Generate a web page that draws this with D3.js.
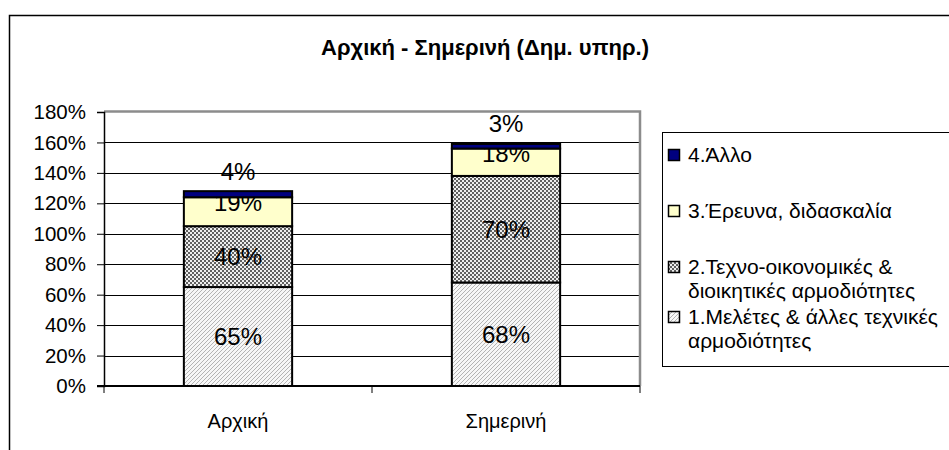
<!DOCTYPE html>
<html>
<head>
<meta charset="utf-8">
<script src="https://cdn.jsdelivr.net/npm/d3@7"></script>
<style>
  body { margin: 0; background: #fff; }
  svg { display: block; font-family: "Liberation Sans", Arial, sans-serif; }
</style>
</head>
<body>
<svg id="chart" width="949" height="450"></svg>
<script>
// data
const categories = ['Αρχική', 'Σημερινή'];
const seriesNames = [
  '1.Μελέτες & άλλες τεχνικές αρμοδιότητες',
  '2.Τεχνο-οικονομικές & διοικητικές αρμοδιότητες',
  '3.Έρευνα, διδασκαλία',
  '4.Άλλο'
];
const series1 = [65, 68];
const series2 = [40, 70];
const series3 = [19, 18];
const series4 = [4, 3];
const yTicks = [0, 20, 40, 60, 80, 100, 120, 140, 160, 180];
const title = 'Αρχική - Σημερινή (Δημ. υπηρ.)';

const svg = d3.select('#chart');
const defs = svg.append('defs');

// fill patterns
const hatch = defs.append('pattern')
  .attr('id', 'hatch')
  .attr('patternUnits', 'userSpaceOnUse')
  .attr('width', 4).attr('height', 4);
hatch.append('rect').attr('width', 4).attr('height', 4).attr('fill', '#f7f7f7');
hatch.append('path')
  .attr('d', 'M-1,1 l2,-2 M0,4 l4,-4 M3,5 l2,-2')
  .attr('stroke', '#b4b4b4').attr('stroke-width', 1);

const checker = defs.append('pattern')
  .attr('id', 'checker')
  .attr('patternUnits', 'userSpaceOnUse')
  .attr('width', 4).attr('height', 4);
checker.append('rect').attr('width', 4).attr('height', 4).attr('fill', '#eeeeee');
checker.append('rect').attr('width', 2).attr('height', 2).attr('fill', '#606060');
checker.append('rect').attr('x', 2).attr('y', 2).attr('width', 2).attr('height', 2).attr('fill', '#606060');

const fills = ['url(#hatch)', 'url(#checker)', '#ffffcc', '#000080'];
const labelShift = [0, 0, -9, -23];

// outer chart frame (runs past the window)
svg.append('rect')
  .attr('x', 9.5).attr('y', 15.5)
  .attr('width', 960).attr('height', 460)
  .attr('fill', 'none').attr('stroke', '#000').attr('stroke-width', 1.5);

// title
svg.append('text')
  .attr('x', 485).attr('y', 55)
  .attr('text-anchor', 'middle')
  .attr('font-size', 22).attr('font-weight', 'bold')
  .text(title);

const margin = { left: 104, right: 640, top: 112, bottom: 386 };

const x = d3.scaleBand()
  .domain(categories)
  .range([margin.left, margin.right])
  .padding(0);

const y = d3.scaleLinear()
  .domain([0, 180])
  .range([margin.bottom, margin.top]);

const barW = x.bandwidth() * 0.404;

// gridlines
svg.append('g')
  .selectAll('line')
  .data(yTicks.slice(1, -1))
  .join('line')
  .attr('x1', margin.left).attr('x2', margin.right)
  .attr('y1', d => Math.round(y(d)) + 0.5).attr('y2', d => Math.round(y(d)) + 0.5)
  .attr('stroke', '#000').attr('stroke-width', 1);

// plot area border (grey)
svg.append('path')
  .attr('d', `M${margin.left},${Math.round(y(180)) - 0.5}H${margin.right}V${margin.bottom}`)
  .attr('fill', 'none').attr('stroke', '#8c8c8c').attr('stroke-width', 2.5);

// stacked bars
const rows = categories.map((c, i) => ({
  cat: c, s0: series1[i], s1: series2[i], s2: series3[i], s3: series4[i]
}));
const keys = ['s0', 's1', 's2', 's3'];
const stacked = d3.stack().keys(keys)(rows);

const layers = svg.append('g')
  .selectAll('g')
  .data(stacked)
  .join('g')
  .attr('fill', (d, i) => fills[i]);

layers.selectAll('rect')
  .data(d => d)
  .join('rect')
  .attr('x', d => x(d.data.cat) + (x.bandwidth() - barW) / 2)
  .attr('y', d => y(d[1]))
  .attr('width', barW)
  .attr('height', d => y(d[0]) - y(d[1]))
  .attr('stroke', '#000')
  .attr('stroke-width', 2);

// y axis
const yAxis = svg.append('g')
  .attr('transform', `translate(${margin.left},0)`)
  .call(d3.axisLeft(y).tickValues(yTicks).tickFormat(d => d + '%').tickSize(7).tickPadding(11));
yAxis.select('.domain').attr('stroke', '#000').attr('stroke-width', 1.5);
yAxis.selectAll('.tick line').attr('stroke', '#000');
yAxis.selectAll('text').attr('font-size', 20.5).attr('fill', '#000')
  .attr('font-family', '"Liberation Sans", Arial, sans-serif');

// x axis
const xAxisG = svg.append('g')
  .attr('transform', `translate(0,${margin.bottom})`);
xAxisG.append('line')
  .attr('x1', margin.left - 7).attr('x2', margin.right)
  .attr('stroke', '#000').attr('stroke-width', 2);
xAxisG.selectAll('.cattick')
  .data([margin.left, margin.left + x.bandwidth(), margin.right])
  .join('line')
  .attr('x1', d => d).attr('x2', d => d)
  .attr('y1', 0).attr('y2', 7)
  .attr('stroke', '#000');
xAxisG.selectAll('text')
  .data(categories)
  .join('text')
  .attr('x', d => x(d) + x.bandwidth() / 2)
  .attr('y', 42)
  .attr('text-anchor', 'middle')
  .attr('font-size', 20)
  .text(d => d);

// data labels
layers.each(function (layer, li) {
  d3.select(this).selectAll('text')
    .data(layer)
    .join('text')
    .attr('x', d => x(d.data.cat) + x.bandwidth() / 2)
    .attr('y', d => (y(d[0]) + y(d[1])) / 2 + labelShift[li])
    .attr('dy', '0.35em')
    .attr('text-anchor', 'middle')
    .attr('font-size', 24)
    .attr('fill', '#000')
    .text(d => (d[1] - d[0]) + '%');
});

// legend
const legend = svg.append('g');
legend.append('rect')
  .attr('x', 662.5).attr('y', 132.5)
  .attr('width', 320).attr('height', 234)
  .attr('fill', '#fff').attr('stroke', '#000').attr('stroke-width', 1);

const legendItems = [
  { i: 3, lines: ['4.Άλλο'], y: 155 },
  { i: 2, lines: ['3.Έρευνα, διδασκαλία'], y: 211 },
  { i: 1, lines: ['2.Τεχνο-οικονομικές &', 'διοικητικές αρμοδιότητες'], y: 267 },
  { i: 0, lines: ['1.Μελέτες & άλλες τεχνικές', 'αρμοδιότητες'], y: 317 }
];
legendItems.forEach(item => {
  legend.append('rect')
    .attr('x', 668.5).attr('y', item.y - 5.5)
    .attr('width', 11).attr('height', 11)
    .attr('fill', fills[item.i]).attr('stroke', '#000').attr('stroke-width', 1.5);
  const t = legend.append('text')
    .attr('x', 688).attr('y', item.y)
    .attr('font-size', 21);
  item.lines.forEach((ln, k) => {
    t.append('tspan').attr('x', 688).attr('dy', k === 0 ? '0.35em' : 24).text(ln);
  });
});
</script>
</body>
</html>
